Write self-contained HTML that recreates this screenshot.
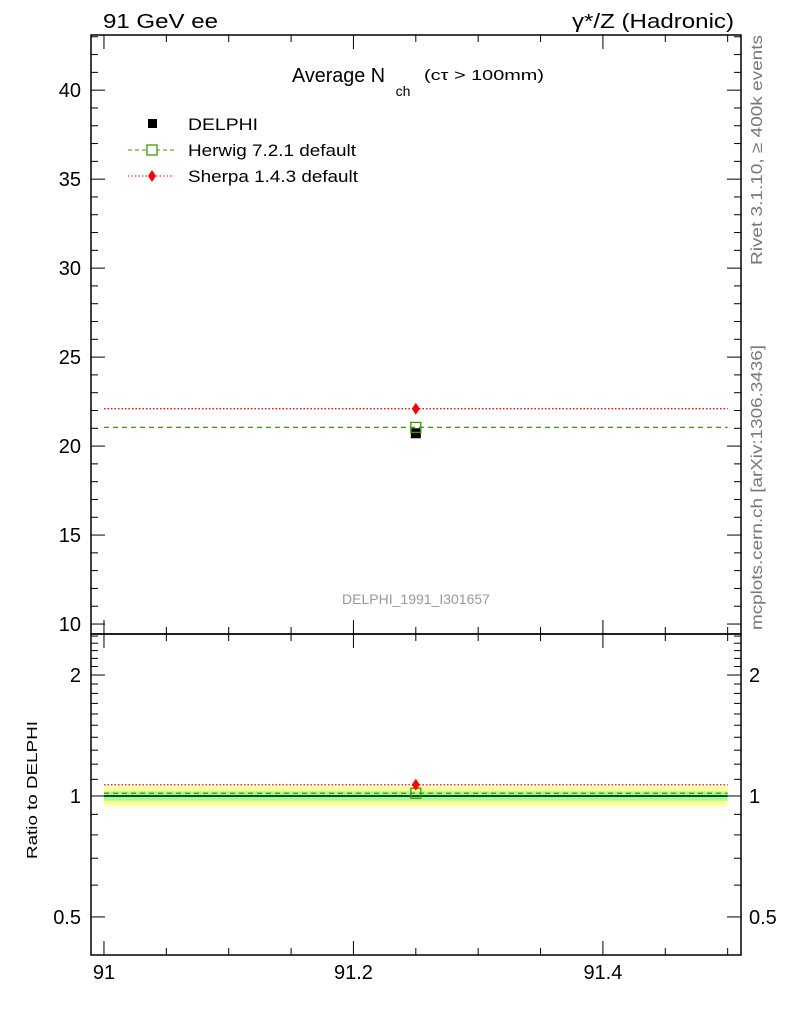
<!DOCTYPE html>
<html><head><meta charset="utf-8"><style>
html,body{margin:0;padding:0;background:#fff;}
svg{display:block;font-family:"Liberation Sans",sans-serif;}
</style></head><body>
<svg id="chart" width="786" height="1024" viewBox="0 0 786 1024" xmlns="http://www.w3.org/2000/svg">
<text x="103" y="28" font-size="20" textLength="115" lengthAdjust="spacingAndGlyphs">91 GeV ee</text>
<text x="572" y="28" font-size="20" textLength="162" lengthAdjust="spacingAndGlyphs">γ*/Z (Hadronic)</text>
<g>
<text x="292" y="82" font-size="20" textLength="93" lengthAdjust="spacingAndGlyphs">Average N</text>
<text x="403" y="96" font-size="14" text-anchor="middle">ch</text>
<text x="424" y="80" font-size="15" textLength="120" lengthAdjust="spacingAndGlyphs">(cτ &gt; 100mm)</text>
</g>
<text transform="translate(762,265) rotate(-90)" font-size="16" fill="#777" textLength="230" lengthAdjust="spacingAndGlyphs">Rivet 3.1.10, ≥ 400k events</text>
<text transform="translate(762,630) rotate(-90)" font-size="16" fill="#777" textLength="285" lengthAdjust="spacingAndGlyphs">mcplots.cern.ch [arXiv:1306.3436]</text>
<text x="416" y="604" font-size="14" fill="#999" text-anchor="middle">DELPHI_1991_I301657</text>
<text transform="translate(37,790) rotate(-90)" font-size="15" text-anchor="middle" textLength="138" lengthAdjust="spacingAndGlyphs">Ratio to DELPHI</text>
<g>
<g><rect x="148" y="119" width="9" height="9" fill="#000"/><text x="188" y="130" font-size="17" textLength="70" lengthAdjust="spacingAndGlyphs">DELPHI</text></g>
<g><line x1="128" y1="150" x2="174" y2="150" stroke="#3a9a00" stroke-dasharray="4,3"/><rect x="147" y="145" width="10" height="10" fill="#fff" stroke="#3a9a00" stroke-width="1.3"/><text x="188" y="156" font-size="17" textLength="168" lengthAdjust="spacingAndGlyphs">Herwig 7.2.1 default</text></g>
<g><line x1="128" y1="176" x2="174" y2="176" stroke="#f00" stroke-dasharray="1.5,2"/><polygon points="152,170 156,176 152,182 148,176" fill="#f00"/><text x="188" y="182" font-size="17" textLength="170" lengthAdjust="spacingAndGlyphs">Sherpa 1.4.3 default</text></g>
</g>
<g id="marks"></g>
<g id="axes"></g>
</svg>
<script>
const xTicks=[91,91.2,91.4];
const yTicks=[10,15,20,25,30,35,40];
const rTicks=[0.5,1,2];
const rTickLabels=["0.5","1","2"];
const binLo=[91];
const binHi=[91.5];
const binCenter=[91.25];
const delphiVal=[20.72];
const delphiStat=[0.55];
const delphiTot=[1.2];
const herwigVal=[21.05];
const sherpaVal=[22.1];

const L=91,R=741,T=35,M=634,B=955;
const xMin=90.9896,xMax=91.5107;
const yMin=9.44,yMax=43.1;
const rMin=0.402,rMax=2.53;
const X=v=>L+(v-xMin)/(xMax-xMin)*(R-L);
const Y=v=>M-(v-yMin)/(yMax-yMin)*(M-T);
const RY=v=>B-(Math.log10(v)-Math.log10(rMin))/(Math.log10(rMax)-Math.log10(rMin))*(B-M);
const NS="http://www.w3.org/2000/svg";
const marks=document.getElementById('marks'),axes=document.getElementById('axes');
function el(p,t,a){const e=document.createElementNS(NS,t);for(const k in a)e.setAttribute(k,a[k]);p.appendChild(e);return e;}

for(let i=0;i<binLo.length;i++){
  const x0=X(binLo[i]),x1=X(binHi[i]),w=x1-x0,d=delphiVal[i];
  let e=el(marks,'rect',{x:x0,y:RY(1+delphiTot[i]/d),width:w,height:RY(1-delphiTot[i]/d)-RY(1+delphiTot[i]/d),fill:'#ffff99'});
  
  e=el(marks,'rect',{x:x0,y:RY(1+delphiStat[i]/d),width:w,height:RY(1-delphiStat[i]/d)-RY(1+delphiStat[i]/d),fill:'#99ff99'});
  
  e=el(marks,'line',{x1:x0,x2:x1,y1:RY(1),y2:RY(1),stroke:'#000','stroke-width':1.5});
  
  e=el(marks,'line',{x1:x0,x2:x1,y1:Y(herwigVal[i]),y2:Y(herwigVal[i]),stroke:'#3a9a00','stroke-width':1.3,'stroke-dasharray':'5,4'});
  
  e=el(marks,'line',{x1:x0,x2:x1,y1:Y(sherpaVal[i]),y2:Y(sherpaVal[i]),stroke:'#f00','stroke-width':1.3,'stroke-dasharray':'1.5,2'});
  
  const cx=X(binCenter[i]);
  e=el(marks,'rect',{x:cx-5,y:Y(d)-5,width:10,height:10,fill:'#000'});
  
  e=el(marks,'rect',{x:cx-5,y:Y(herwigVal[i])-5,width:10,height:10,fill:'none',stroke:'#3a9a00','stroke-width':1.3});
  
  let sy=Y(sherpaVal[i]);
  e=el(marks,'polygon',{points:`${cx},${sy-6} ${cx+4},${sy} ${cx},${sy+6} ${cx-4},${sy}`,fill:'#f00'});
  
  const hr=herwigVal[i]/d,sr=sherpaVal[i]/d;
  e=el(marks,'line',{x1:x0,x2:x1,y1:RY(hr),y2:RY(hr),stroke:'#3a9a00','stroke-width':1.3,'stroke-dasharray':'5,4'});
  
  e=el(marks,'line',{x1:x0,x2:x1,y1:RY(sr),y2:RY(sr),stroke:'#f00','stroke-width':1.3,'stroke-dasharray':'1.5,2'});
  
  e=el(marks,'rect',{x:cx-5,y:RY(hr)-5,width:10,height:10,fill:'none',stroke:'#3a9a00','stroke-width':1.3});
  
  sy=RY(sr);
  e=el(marks,'polygon',{points:`${cx},${sy-6} ${cx+4},${sy} ${cx},${sy+6} ${cx-4},${sy}`,fill:'#f00'});
  
}

let f=el(axes,'rect',{x:L,y:T,width:R-L,height:M-T,fill:'none',stroke:'#000','stroke-width':1.5});

f=el(axes,'rect',{x:L,y:M,width:R-L,height:B-M,fill:'none',stroke:'#000','stroke-width':1.5});


function tick(x1,y1,x2,y2){el(axes,'line',{x1,y1,x2,y2,stroke:'#000','stroke-width':1});}
for(let v=91;v<=91.5001;v+=0.05){
  const x=X(v),maj=Math.abs(v*5-Math.round(v*5))<1e-6,len=maj?14:7;
  tick(x,T,x,T+len);tick(x,M,x,M-len);tick(x,M,x,M+len);tick(x,B,x,B-len);
}
xTicks.forEach(v=>{const t=el(axes,'text',{x:X(v),y:B+24,'font-size':20,'text-anchor':'middle'});t.textContent=String(v);
});
for(let v=10;v<=43;v+=1){
  const y=Y(v),maj=v%5===0,len=maj?14:7;
  tick(L,y,L+len,y);tick(R,y,R-len,y);
}
yTicks.forEach(v=>{const t=el(axes,'text',{x:L-10,y:Y(v)+7,'font-size':20,'text-anchor':'end'});t.textContent=String(v);
});
const rMinor=[0.5,0.6,0.7,0.8,0.9,1,1.1,1.2,1.3,1.4,1.5,1.6,1.7,1.8,1.9,2,2.1,2.2,2.3,2.4,2.5];
rMinor.forEach(v=>{const y=RY(v),maj=rTicks.includes(v),len=maj?14:7;tick(L,y,L+len,y);tick(R,y,R-len,y);});
rTicks.forEach((v,i)=>{
  let t=el(axes,'text',{x:L-10,y:RY(v)+7,'font-size':20,'text-anchor':'end'});t.textContent=rTickLabels[i];
  
  t=el(axes,'text',{x:R+8,y:RY(v)+7,'font-size':20});t.textContent=rTickLabels[i];
  
});
</script>
</body></html>
